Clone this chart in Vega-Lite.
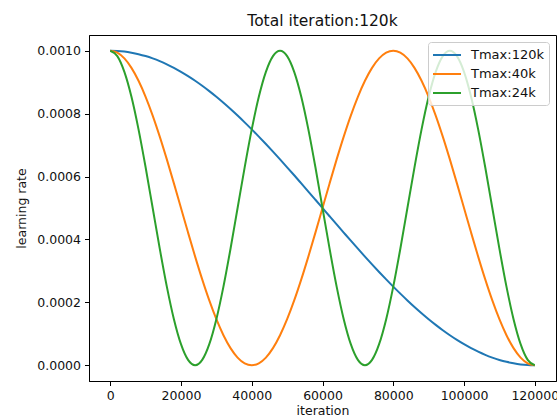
{
  "$schema": "https://vega.github.io/schema/vega-lite/v6.json",
  "width": 467,
  "height": 346,
  "autosize": {"type": "none"},
  "padding": {"left": 89, "top": 35, "right": 1, "bottom": 38},
  "background": "white",
  "title": {
    "text": "Total iteration:120k",
    "font": "DejaVu Sans",
    "fontSize": 15.5,
    "fontWeight": "normal",
    "color": "#111111",
    "anchor": "middle",
    "offset": 6
  },
  "data": {
    "values": [
      {"iteration": 0, "Tmax:120k": 0.0010000, "Tmax:40k": 0.0010000, "Tmax:24k": 0.0010000},
      {"iteration": 2000, "Tmax:120k": 0.0009993, "Tmax:40k": 0.0009938, "Tmax:24k": 0.0009830},
      {"iteration": 4000, "Tmax:120k": 0.0009973, "Tmax:40k": 0.0009755, "Tmax:24k": 0.0009330},
      {"iteration": 6000, "Tmax:120k": 0.0009938, "Tmax:40k": 0.0009455, "Tmax:24k": 0.0008536},
      {"iteration": 8000, "Tmax:120k": 0.0009891, "Tmax:40k": 0.0009045, "Tmax:24k": 0.0007500},
      {"iteration": 10000, "Tmax:120k": 0.0009830, "Tmax:40k": 0.0008536, "Tmax:24k": 0.0006294},
      {"iteration": 12000, "Tmax:120k": 0.0009755, "Tmax:40k": 0.0007939, "Tmax:24k": 0.0005000},
      {"iteration": 14000, "Tmax:120k": 0.0009668, "Tmax:40k": 0.0007270, "Tmax:24k": 0.0003706},
      {"iteration": 16000, "Tmax:120k": 0.0009568, "Tmax:40k": 0.0006545, "Tmax:24k": 0.0002500},
      {"iteration": 18000, "Tmax:120k": 0.0009455, "Tmax:40k": 0.0005782, "Tmax:24k": 0.0001464},
      {"iteration": 20000, "Tmax:120k": 0.0009330, "Tmax:40k": 0.0005000, "Tmax:24k": 0.0000670},
      {"iteration": 22000, "Tmax:120k": 0.0009193, "Tmax:40k": 0.0004218, "Tmax:24k": 0.0000170},
      {"iteration": 24000, "Tmax:120k": 0.0009045, "Tmax:40k": 0.0003455, "Tmax:24k": 0.0000000},
      {"iteration": 26000, "Tmax:120k": 0.0008886, "Tmax:40k": 0.0002730, "Tmax:24k": 0.0000170},
      {"iteration": 28000, "Tmax:120k": 0.0008716, "Tmax:40k": 0.0002061, "Tmax:24k": 0.0000670},
      {"iteration": 30000, "Tmax:120k": 0.0008536, "Tmax:40k": 0.0001464, "Tmax:24k": 0.0001464},
      {"iteration": 32000, "Tmax:120k": 0.0008346, "Tmax:40k": 0.0000955, "Tmax:24k": 0.0002500},
      {"iteration": 34000, "Tmax:120k": 0.0008147, "Tmax:40k": 0.0000545, "Tmax:24k": 0.0003706},
      {"iteration": 36000, "Tmax:120k": 0.0007939, "Tmax:40k": 0.0000245, "Tmax:24k": 0.0005000},
      {"iteration": 38000, "Tmax:120k": 0.0007723, "Tmax:40k": 0.0000062, "Tmax:24k": 0.0006294},
      {"iteration": 40000, "Tmax:120k": 0.0007500, "Tmax:40k": 0.0000000, "Tmax:24k": 0.0007500},
      {"iteration": 42000, "Tmax:120k": 0.0007270, "Tmax:40k": 0.0000062, "Tmax:24k": 0.0008536},
      {"iteration": 44000, "Tmax:120k": 0.0007034, "Tmax:40k": 0.0000245, "Tmax:24k": 0.0009330},
      {"iteration": 46000, "Tmax:120k": 0.0006792, "Tmax:40k": 0.0000545, "Tmax:24k": 0.0009830},
      {"iteration": 48000, "Tmax:120k": 0.0006545, "Tmax:40k": 0.0000955, "Tmax:24k": 0.0010000},
      {"iteration": 50000, "Tmax:120k": 0.0006294, "Tmax:40k": 0.0001464, "Tmax:24k": 0.0009830},
      {"iteration": 52000, "Tmax:120k": 0.0006040, "Tmax:40k": 0.0002061, "Tmax:24k": 0.0009330},
      {"iteration": 54000, "Tmax:120k": 0.0005782, "Tmax:40k": 0.0002730, "Tmax:24k": 0.0008536},
      {"iteration": 56000, "Tmax:120k": 0.0005523, "Tmax:40k": 0.0003455, "Tmax:24k": 0.0007500},
      {"iteration": 58000, "Tmax:120k": 0.0005262, "Tmax:40k": 0.0004218, "Tmax:24k": 0.0006294},
      {"iteration": 60000, "Tmax:120k": 0.0005000, "Tmax:40k": 0.0005000, "Tmax:24k": 0.0005000},
      {"iteration": 62000, "Tmax:120k": 0.0004738, "Tmax:40k": 0.0005782, "Tmax:24k": 0.0003706},
      {"iteration": 64000, "Tmax:120k": 0.0004477, "Tmax:40k": 0.0006545, "Tmax:24k": 0.0002500},
      {"iteration": 66000, "Tmax:120k": 0.0004218, "Tmax:40k": 0.0007270, "Tmax:24k": 0.0001464},
      {"iteration": 68000, "Tmax:120k": 0.0003960, "Tmax:40k": 0.0007939, "Tmax:24k": 0.0000670},
      {"iteration": 70000, "Tmax:120k": 0.0003706, "Tmax:40k": 0.0008536, "Tmax:24k": 0.0000170},
      {"iteration": 72000, "Tmax:120k": 0.0003455, "Tmax:40k": 0.0009045, "Tmax:24k": 0.0000000},
      {"iteration": 74000, "Tmax:120k": 0.0003208, "Tmax:40k": 0.0009455, "Tmax:24k": 0.0000170},
      {"iteration": 76000, "Tmax:120k": 0.0002966, "Tmax:40k": 0.0009755, "Tmax:24k": 0.0000670},
      {"iteration": 78000, "Tmax:120k": 0.0002730, "Tmax:40k": 0.0009938, "Tmax:24k": 0.0001464},
      {"iteration": 80000, "Tmax:120k": 0.0002500, "Tmax:40k": 0.0010000, "Tmax:24k": 0.0002500},
      {"iteration": 82000, "Tmax:120k": 0.0002277, "Tmax:40k": 0.0009938, "Tmax:24k": 0.0003706},
      {"iteration": 84000, "Tmax:120k": 0.0002061, "Tmax:40k": 0.0009755, "Tmax:24k": 0.0005000},
      {"iteration": 86000, "Tmax:120k": 0.0001853, "Tmax:40k": 0.0009455, "Tmax:24k": 0.0006294},
      {"iteration": 88000, "Tmax:120k": 0.0001654, "Tmax:40k": 0.0009045, "Tmax:24k": 0.0007500},
      {"iteration": 90000, "Tmax:120k": 0.0001464, "Tmax:40k": 0.0008536, "Tmax:24k": 0.0008536},
      {"iteration": 92000, "Tmax:120k": 0.0001284, "Tmax:40k": 0.0007939, "Tmax:24k": 0.0009330},
      {"iteration": 94000, "Tmax:120k": 0.0001114, "Tmax:40k": 0.0007270, "Tmax:24k": 0.0009830},
      {"iteration": 96000, "Tmax:120k": 0.0000955, "Tmax:40k": 0.0006545, "Tmax:24k": 0.0010000},
      {"iteration": 98000, "Tmax:120k": 0.0000807, "Tmax:40k": 0.0005782, "Tmax:24k": 0.0009830},
      {"iteration": 100000, "Tmax:120k": 0.0000670, "Tmax:40k": 0.0005000, "Tmax:24k": 0.0009330},
      {"iteration": 102000, "Tmax:120k": 0.0000545, "Tmax:40k": 0.0004218, "Tmax:24k": 0.0008536},
      {"iteration": 104000, "Tmax:120k": 0.0000432, "Tmax:40k": 0.0003455, "Tmax:24k": 0.0007500},
      {"iteration": 106000, "Tmax:120k": 0.0000332, "Tmax:40k": 0.0002730, "Tmax:24k": 0.0006294},
      {"iteration": 108000, "Tmax:120k": 0.0000245, "Tmax:40k": 0.0002061, "Tmax:24k": 0.0005000},
      {"iteration": 110000, "Tmax:120k": 0.0000170, "Tmax:40k": 0.0001464, "Tmax:24k": 0.0003706},
      {"iteration": 112000, "Tmax:120k": 0.0000109, "Tmax:40k": 0.0000955, "Tmax:24k": 0.0002500},
      {"iteration": 114000, "Tmax:120k": 0.0000062, "Tmax:40k": 0.0000545, "Tmax:24k": 0.0001464},
      {"iteration": 116000, "Tmax:120k": 0.0000027, "Tmax:40k": 0.0000245, "Tmax:24k": 0.0000670},
      {"iteration": 118000, "Tmax:120k": 0.0000007, "Tmax:40k": 0.0000062, "Tmax:24k": 0.0000170},
      {"iteration": 120000, "Tmax:120k": 0.0000000, "Tmax:40k": 0.0000000, "Tmax:24k": 0.0000000}
    ]
  },
  "transform": [
    {"fold": ["Tmax:120k", "Tmax:40k", "Tmax:24k"], "as": ["series", "lr"]}
  ],
  "mark": {"type": "line", "strokeWidth": 2, "interpolate": "monotone", "clip": true},
  "encoding": {
    "x": {
      "field": "iteration",
      "type": "quantitative",
      "scale": {"domain": [-6000, 126000], "nice": false, "zero": false},
      "axis": {
        "values": [0, 20000, 40000, 60000, 80000, 100000, 120000],
        "format": "d",
        "title": "iteration",
        "labelPadding": 4,
        "titlePadding": 2
      }
    },
    "y": {
      "field": "lr",
      "type": "quantitative",
      "scale": {"domain": [-0.00005, 0.00105], "nice": false, "zero": false},
      "axis": {
        "values": [0, 0.0002, 0.0004, 0.0006, 0.0008, 0.001],
        "format": ".4f",
        "title": "learning rate",
        "labelPadding": 4,
        "titlePadding": 8
      }
    },
    "color": {
      "field": "series",
      "type": "nominal",
      "sort": ["Tmax:120k", "Tmax:40k", "Tmax:24k"],
      "scale": {
        "domain": ["Tmax:120k", "Tmax:40k", "Tmax:24k"],
        "range": ["#1f77b4", "#ff7f0e", "#2ca02c"]
      },
      "legend": {
        "title": null,
        "orient": "top-right",
        "offset": 7,
        "symbolType": "M-1.14,0H2.86",
        "symbolSize": 196,
        "symbolStrokeWidth": 2,
        "labelFont": "DejaVu Sans",
        "labelFontSize": 13,
        "labelColor": "#111111",
        "labelOffset": 22,
        "fillColor": "rgba(255,255,255,0.8)",
        "strokeColor": "#cccccc",
        "cornerRadius": 3,
        "padding": 5,
        "rowPadding": 4
      }
    }
  },
  "config": {
    "view": {"stroke": "#000000", "strokeWidth": 1},
    "axis": {
      "grid": false,
      "domainColor": "#000000",
      "domainWidth": 1,
      "tickColor": "#000000",
      "tickWidth": 1,
      "tickSize": 4.5,
      "labelFont": "DejaVu Sans",
      "labelFontSize": 12.5,
      "labelColor": "#111111",
      "titleFont": "DejaVu Sans",
      "titleFontSize": 12.5,
      "titleFontWeight": "normal",
      "titleColor": "#111111"
    }
  }
}
